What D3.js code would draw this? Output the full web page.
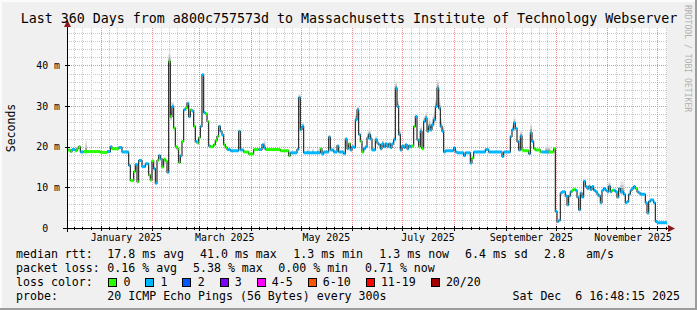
<!DOCTYPE html>
<html>
<head>
<meta charset="utf-8">
<script src="https://cdn.jsdelivr.net/npm/d3@7/dist/d3.min.js"></script>
<style>
  body { margin: 0; background: #f0f0f0; }
  svg text { font-family: "DejaVu Sans Mono", monospace; white-space: pre; }
</style>
</head>
<body>
<div id="chart"></div>
<script>
// ---- data ----
var titleText = 'Last 360 Days from a800c757573d to Massachusetts Institute of Technology Webserver';
var endTime = new Date(2025, 11, 6, 16, 48, 15);   // graph timestamp
var spanDays = 360;

var xLabels = ['January 2025', 'March 2025', 'May 2025', 'July 2025', 'September 2025', 'November 2025'];
var yTicks = [0, 10, 20, 30, 40];   // ms

// median rtt as steps: day offset from start, value in ms, loss category index
var stepDay = [
    0, 2, 3, 5, 6, 7, 8, 10, 20, 24,
    26, 27, 31, 33, 37, 38, 40, 41, 42, 43,
    45, 47, 49, 50, 51, 52, 53, 54, 55, 56,
    57, 58, 59, 60, 61, 62, 63, 64, 65, 66,
    67, 68, 69, 70, 71, 72, 73, 74, 75, 76,
    77, 78, 79, 80, 81, 82, 83, 84, 85, 86,
    88, 89, 90, 91, 92, 93, 94, 95, 96, 98,
    103, 104, 106, 109, 112, 115, 117, 118, 119, 128,
    133, 134, 138, 139, 140, 141, 142, 152, 153, 154,
    157, 158, 160, 162, 163, 166, 167, 168, 169, 170,
    171, 172, 173, 174, 175, 176, 177, 178, 179, 180,
    181, 182, 183, 185, 186, 187, 188, 189, 190, 191,
    192, 193, 194, 195, 196, 197, 198, 199, 200, 201,
    202, 203, 204, 205, 206, 207, 208, 209, 210, 211,
    212, 213, 214, 215, 216, 217, 218, 219, 220, 221,
    222, 223, 224, 225, 226, 227, 232, 233, 234, 238,
    239, 242, 243, 244, 251, 253, 261, 262, 266, 267,
    268, 269, 270, 271, 272, 273, 274, 277, 278, 279,
    280, 281, 284, 285, 289, 292, 293, 294, 295, 296,
    297, 299, 300, 301, 302, 303, 304, 305, 306, 307,
    308, 309, 310, 311, 312, 313, 314, 315, 316, 317,
    318, 319, 320, 321, 322, 323, 324, 325, 326, 327,
    328, 329, 330, 331, 332, 334, 335, 336, 337, 338,
    339, 340, 341, 342, 343, 344, 347, 348, 349, 350,
    352, 353, 354
];
var medianMs = [
    19.2, 18.8, 19.3, 19.0, 19.6, 20.0, 18.7, 18.8, 18.6, 18.8,
    20.0, 19.5, 19.8, 18.7, 15.4, 11.7, 13.9, 15.6, 11.4, 16.6,
    15.1, 15.8, 13.0, 11.8, 16.5, 14.6, 11.0, 16.6, 17.8, 17.0,
    15.0, 16.9, 16.5, 13.7, 41.0, 27.4, 29.9, 24.6, 20.0, 19.5,
    16.1, 17.8, 21.3, 29.1, 29.5, 30.7, 27.4, 29.1, 28.8, 25.0,
    21.3, 20.9, 22.2, 25.0, 37.7, 28.4, 28.1, 26.2, 20.2, 20.0,
    20.5, 21.5, 22.5, 25.0, 23.8, 22.9, 20.5, 19.8, 19.3, 19.0,
    23.8, 19.2, 18.7, 18.2, 19.3, 19.3, 20.5, 19.8, 19.3, 19.0,
    17.8, 18.5, 19.3, 32.0, 24.2, 25.0, 18.5, 19.5, 18.2, 18.7,
    22.4, 19.2, 18.7, 20.2, 18.7, 18.3, 21.9, 19.5, 20.7, 19.2,
    20.0, 19.8, 26.6, 29.1, 23.0, 21.3, 18.7, 19.5, 20.0, 22.1,
    23.0, 21.9, 19.2, 21.7, 20.9, 20.5, 19.5, 20.7, 20.0, 20.7,
    20.0, 20.7, 19.8, 20.7, 21.7, 34.4, 29.9, 23.0, 19.2, 20.2,
    19.8, 20.5, 19.5, 20.2, 20.0, 20.2, 25.0, 27.4, 21.7, 20.0,
    23.8, 19.5, 26.2, 27.0, 23.8, 25.0, 24.2, 25.4, 26.6, 29.9,
    34.4, 29.5, 25.0, 23.8, 18.7, 19.0, 19.7, 18.7, 18.5, 17.8,
    18.5, 16.0, 17.2, 18.7, 19.3, 18.7, 17.6, 18.7, 22.5, 24.2,
    25.8, 24.5, 21.3, 19.2, 22.6, 19.2, 19.0, 18.3, 23.4, 21.3,
    19.5, 19.2, 18.7, 18.7, 18.7, 19.5, 4.1, 1.6, 1.9, 8.6,
    8.9, 7.9, 5.7, 7.9, 8.9, 9.3, 9.5, 9.3, 7.6, 4.5,
    8.6, 7.6, 11.5, 10.2, 9.7, 10.2, 9.5, 10.2, 9.3, 8.9,
    8.3, 7.9, 6.2, 9.3, 9.7, 9.3, 8.9, 10.2, 8.9, 9.3,
    9.3, 8.9, 7.6, 9.7, 8.9, 8.3, 6.2, 6.5, 8.3, 9.3,
    9.7, 10.2, 9.7, 8.9, 8.6, 8.3, 6.2, 3.7, 6.5, 6.9,
    6.2, 1.6, 1.3
];
var lossCat = [
    0, 0, 1, 0, 0, 0, 1, 0, 0, 1,
    1, 0, 1, 1, 1, 0, 0, 1, 0, 1,
    1, 1, 0, 0, 0, 1, 1, 0, 1, 1,
    0, 0, 0, 1, 0, 0, 1, 0, 0, 0,
    0, 1, 0, 1, 0, 1, 1, 0, 1, 0,
    1, 0, 0, 1, 1, 1, 0, 0, 1, 0,
    0, 0, 0, 1, 1, 1, 0, 0, 1, 1,
    1, 1, 0, 0, 0, 1, 1, 1, 0, 0,
    0, 1, 1, 1, 1, 1, 1, 0, 1, 1,
    1, 1, 1, 1, 1, 1, 1, 1, 0, 1,
    1, 1, 1, 1, 1, 0, 0, 1, 1, 1,
    1, 1, 1, 1, 1, 1, 1, 1, 1, 1,
    1, 1, 1, 1, 1, 1, 1, 1, 1, 1,
    1, 1, 1, 1, 1, 0, 0, 1, 1, 0,
    1, 0, 1, 1, 1, 1, 1, 1, 1, 1,
    1, 1, 1, 1, 1, 1, 1, 1, 1, 1,
    1, 1, 0, 1, 1, 1, 1, 1, 1, 1,
    1, 1, 1, 1, 1, 0, 0, 1, 1, 1,
    0, 0, 0, 1, 0, 0, 1, 1, 1, 1,
    1, 1, 1, 1, 1, 0, 0, 1, 1, 1,
    1, 1, 1, 1, 1, 1, 1, 1, 1, 1,
    1, 1, 1, 1, 1, 1, 1, 1, 1, 0,
    1, 1, 1, 1, 1, 1, 1, 1, 1, 1,
    1, 1, 0, 1, 1, 1, 1, 1, 1, 1,
    1, 1, 1
];

// smoke (spread of the pings): day offset and top of the grey band, ms
var smokeDay = [11, 60, 61, 62, 63, 118, 139, 141, 144, 147, 150,
    173, 174, 180, 181, 182, 185, 189, 196, 197, 198, 199,
    212, 214, 215, 216, 217, 218, 219, 220, 221, 222, 223, 224, 225,
    267, 268, 272, 278, 287, 288, 289, 325, 332, 333];
var smokeTopMs = [21.4, 14.5, 43.6, 31.0, 31.0, 21.7, 33.0, 26.0, 19.5, 19.5, 19.6,
    28.0, 30.0, 23.5, 24.5, 23.0, 22.6, 21.6, 22.8, 36.0, 31.5, 24.5,
    25.0, 27.5, 28.5, 25.3, 27.0, 26.2, 27.4, 28.6, 32.0, 36.5, 31.5, 27.0, 25.3,
    25.2, 27.3, 24.0, 26.0, 20.2, 20.4, 20.2, 11.5, 11.5, 11.5];

// legend
var lossLabels = ['0', '1', '2', '3', '4-5', '6-10', '11-19', '20/20'];
var lossColors = ['#26ff00', '#00b8ff', '#0059ff', '#7e00ff', '#ff00ff', '#ff5500', '#ff0000', '#a10000'];
var rttStats = ['17.8 ms avg', '41.0 ms max', '1.3 ms min', '1.3 ms now', '6.4 ms sd', '2.8', 'am/s'];
var lossStats = ['0.16 % avg', '5.38 % max', '0.00 % min', '0.71 % now'];
var probeText = '20 ICMP Echo Pings (56 Bytes) every 300s';
var stampText = 'Sat Dec  6 16:48:15 2025';

// ---- layout ----
var W = 697, H = 310;
var P = { left: 67, right: 667, top: 28, bottom: 228 };
var FONT_AXIS = '9.9px', FONT_LEG = '11.6px', FONT_TITLE = '13.3px';
var charW = 6.98;

var startTime = new Date(endTime.getTime() - spanDays * 864e5);
function dayDate(d) { return new Date(startTime.getTime() + d * 864e5); }

var x = d3.scaleTime().domain([startTime, endTime]).range([P.left, P.right]);
var y = d3.scaleLinear().domain([0, 49.2]).range([P.bottom, P.top]);
function px(v) { return Math.round(v) + 0.5; }

var steps = stepDay.map(function(d, i) {
    return { t0: dayDate(d), t1: dayDate(i + 1 < stepDay.length ? stepDay[i + 1] : spanDays),
             v: medianMs[i], loss: lossCat[i] };
});

var svg = d3.select('#chart').append('svg')
    .attr('width', W).attr('height', H);

// background and 3d frame
svg.append('rect').attr('width', W).attr('height', H).attr('fill', '#f0f0f0');
svg.append('path').attr('d', 'M0,0H' + W + 'V2H2V' + H + 'H0Z').attr('fill', '#fbfbfb');
svg.append('path').attr('d', 'M' + W + ',0V' + H + 'H0V' + (H - 2) + 'H' + (W - 2) + 'V0Z').attr('fill', '#9c9c9c');

// canvas
svg.append('rect')
    .attr('x', P.left).attr('y', P.top)
    .attr('width', P.right - P.left).attr('height', P.bottom - P.top)
    .attr('fill', '#ffffff');

// grid
var grid = svg.append('g').attr('stroke-dasharray', '1,1').attr('shape-rendering', 'crispEdges');
var minorY = d3.range(2, 49, 2).filter(function(v) { return v % 10 !== 0; });
grid.selectAll('.hmin').data(minorY).enter().append('line')
    .attr('x1', P.left).attr('x2', P.right)
    .attr('y1', function(d) { return px(y(d)); }).attr('y2', function(d) { return px(y(d)); })
    .attr('stroke', '#c8c8c8');

var monthStarts = d3.timeMonth.range(d3.timeMonth.ceil(startTime), endTime);
var minorX = [];
d3.timeMonth.range(d3.timeMonth.floor(startTime), endTime).forEach(function(m) {
    [6, 11, 16, 21, 26].forEach(function(dd) {
        var t = new Date(m.getFullYear(), m.getMonth(), dd);
        if (t > startTime && t < endTime) minorX.push(t);
    });
});
grid.selectAll('.vmin').data(minorX).enter().append('line')
    .attr('y1', P.top).attr('y2', P.bottom)
    .attr('x1', function(d) { return px(x(d)); }).attr('x2', function(d) { return px(x(d)); })
    .attr('stroke', '#c8c8c8');

grid.selectAll('.hmaj').data(yTicks.slice(1)).enter().append('line')
    .attr('x1', P.left).attr('x2', P.right)
    .attr('y1', function(d) { return px(y(d)); }).attr('y2', function(d) { return px(y(d)); })
    .attr('stroke', '#ec8c8c');
grid.selectAll('.vmaj').data(monthStarts).enter().append('line')
    .attr('y1', P.top).attr('y2', P.bottom)
    .attr('x1', function(d) { return px(x(d)); }).attr('x2', function(d) { return px(x(d)); })
    .attr('stroke', '#ec8c8c');

// plot layer
svg.append('clipPath').attr('id', 'clip').append('rect')
    .attr('x', P.left).attr('y', P.top).attr('width', P.right - P.left).attr('height', P.bottom - P.top);
var plot = svg.append('g').attr('clip-path', 'url(#clip)');

// smoke
function medianAt(d) {
    var i = d3.bisectRight(stepDay, d) - 1;
    return medianMs[Math.max(0, i)];
}
var smoke = smokeDay.map(function(d, i) {
    return { t0: dayDate(d), t1: dayDate(d + 1), m: medianAt(d), top: smokeTopMs[i] };
});
var shades = [
    { lo: -0.3, hi: 1.0, c: '#e4e4e4' },
    { lo: -0.2, hi: 0.65, c: '#c6c6c6' },
    { lo: -0.1, hi: 0.35, c: '#9a9a9a' }
];
shades.forEach(function(s) {
    plot.selectAll(null).data(smoke).enter().append('rect')
        .attr('x', function(d) { return x(d.t0); })
        .attr('width', function(d) { return x(d.t1) - x(d.t0); })
        .attr('y', function(d) { return y(d.m + (d.top - d.m) * s.hi); })
        .attr('height', function(d) { return y(d.m + (d.top - d.m) * s.lo) - y(d.m + (d.top - d.m) * s.hi); })
        .attr('fill', s.c);
});

// median line (black steps)
var lineData = steps.map(function(s) { return { t: s.t0, v: s.v }; });
lineData.push({ t: endTime, v: medianMs[medianMs.length - 1] });
var medianLine = d3.line()
    .x(function(d) { return x(d.t); })
    .y(function(d) { return y(d.v); })
    .curve(d3.curveStepAfter);
plot.append('path').datum(lineData)
    .attr('d', medianLine)
    .attr('fill', 'none').attr('stroke', '#1a1a1a').attr('stroke-width', 1.1);

// loss coloured median segments
plot.selectAll('.seg').data(steps).enter().append('line')
    .attr('x1', function(d) { return x(d.t0); })
    .attr('x2', function(d) { return x(d.t1); })
    .attr('y1', function(d) { return y(d.v); })
    .attr('y2', function(d) { return y(d.v); })
    .attr('stroke', function(d) { return lossColors[d.loss]; })
    .attr('stroke-width', 3);

// axes labels through d3 axes
var yAxis = d3.axisLeft(y).tickValues(yTicks).tickSize(0).tickPadding(7)
    .tickFormat(function(v) { return v === 0 ? '0  ' : v + ' m'; });
var gy = svg.append('g').attr('transform', 'translate(' + P.left + ',0)').call(yAxis);
gy.select('.domain').remove();
gy.selectAll('text').attr('font-family', 'DejaVu Sans Mono').attr('font-size', FONT_AXIS)
    .attr('fill', '#000').attr('xml:space', 'preserve');

var labelDates = xLabels.map(function(l) { return d3.timeDay.offset(d3.timeParse('%B %Y')(l), 15); });
var xAxis = d3.axisBottom(x).tickValues(labelDates).tickSize(0).tickPadding(6)
    .tickFormat(function(d, i) { return xLabels[i]; });
var gx = svg.append('g').attr('transform', 'translate(0,' + P.bottom + ')').call(xAxis);
gx.select('.domain').remove();
gx.selectAll('text').attr('font-family', 'DejaVu Sans Mono').attr('font-size', FONT_AXIS).attr('fill', '#000');

// axis lines, ticks and arrows
var ax = svg.append('g').attr('shape-rendering', 'crispEdges').attr('stroke', '#000');
ax.append('line').attr('x1', P.left - 4).attr('x2', P.right + 2)
    .attr('y1', P.bottom + 0.5).attr('y2', P.bottom + 0.5);
ax.append('line').attr('x1', P.left + 0.5).attr('x2', P.left + 0.5)
    .attr('y1', P.top - 2).attr('y2', P.bottom + 4);
ax.selectAll('.yt').data(yTicks).enter().append('line')
    .attr('x1', P.left - 2).attr('x2', P.left + 3)
    .attr('y1', function(d) { return px(y(d)); }).attr('y2', function(d) { return px(y(d)); });
ax.selectAll('.xtm').data(minorX).enter().append('line')
    .attr('y1', P.bottom - 1).attr('y2', P.bottom + 2)
    .attr('x1', function(d) { return px(x(d)); }).attr('x2', function(d) { return px(x(d)); });
ax.selectAll('.xtM').data(monthStarts).enter().append('line')
    .attr('y1', P.bottom - 2).attr('y2', P.bottom + 3)
    .attr('x1', function(d) { return px(x(d)); }).attr('x2', function(d) { return px(x(d)); });
svg.append('path').attr('fill', '#8b1a1a')
    .attr('d', 'M' + (P.right + 1) + ',' + (P.bottom - 3) + 'L' + (P.right + 8) + ',' + (P.bottom + 0.5) +
               'L' + (P.right + 1) + ',' + (P.bottom + 4) + 'Z');
svg.append('path').attr('fill', '#8b1a1a')
    .attr('d', 'M' + (P.left - 3) + ',' + (P.top - 1) + 'L' + (P.left + 0.5) + ',' + (P.top - 8) +
               'L' + (P.left + 4) + ',' + (P.top - 1) + 'Z');

// title, y label, watermark
svg.append('text').attr('x', W / 2 + 0.5).attr('y', 23).attr('text-anchor', 'middle')
    .attr('font-size', FONT_TITLE).attr('fill', '#000').text(titleText);
svg.append('text').attr('transform', 'translate(15,128) rotate(-90)').attr('text-anchor', 'middle')
    .attr('font-size', '11.5px').attr('fill', '#000').text('Seconds');
svg.append('text').attr('transform', 'translate(685,5) rotate(90)')
    .attr('font-size', '8.1px').attr('fill', '#b0b0b0').text('RRDTOOL / TOBI OETIKER');

// legend
var leg = svg.append('g').attr('font-size', FONT_LEG).attr('fill', '#000');
function legText(xp, yp, s, anchor) {
    leg.append('text').attr('x', xp).attr('y', yp).attr('text-anchor', anchor || 'start')
        .attr('xml:space', 'preserve').text(s);
}
var rowY = [258, 272, 286, 300];
var rttX = [107.3, 200, 293.3, 379.3, 465, 544, 586];
var lossX = [107.3, 193, 278.3, 365];

legText(16, rowY[0], 'median rtt:');
rttStats.forEach(function(s, i) { legText(rttX[i], rowY[0], s); });
legText(16, rowY[1], 'packet loss:');
lossStats.forEach(function(s, i) { legText(lossX[i], rowY[1], s); });
legText(16, rowY[2], 'loss color:');
var bx = 108.3;
lossLabels.forEach(function(l, i) {
    leg.append('rect').attr('x', Math.round(bx) + 0.5).attr('y', rowY[2] - 7.5)
        .attr('width', 8).attr('height', 8)
        .attr('fill', lossColors[i]).attr('stroke', '#000').attr('stroke-width', 1);
    legText(bx + 15.2, rowY[2], l);
    bx = bx + 15.2 + l.length * charW + 14.9;
});
legText(16, rowY[3], 'probe:');
legText(107.3, rowY[3], probeText);
legText(680, rowY[3], stampText, 'end');
</script>
</body>
</html>
